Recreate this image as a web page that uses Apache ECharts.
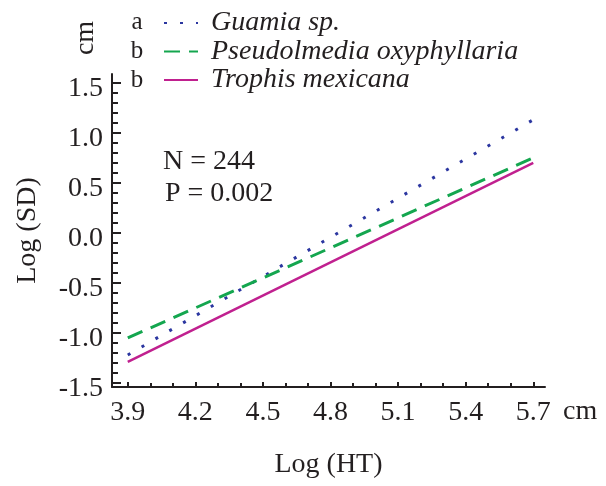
<!DOCTYPE html>
<html>
<head>
<meta charset="utf-8">
<style>
  html, body { margin: 0; padding: 0; background: #fff; }
  #chart { width: 606px; height: 486px; }
</style>
<script src="https://cdn.jsdelivr.net/npm/echarts@6/dist/echarts.min.js"></script>
</head>
<body>
<div id="chart"></div>
<script>
// regression lines, log(HT) vs log(SD)
const xEnds = [3.9, 5.7]
const guamia = [-1.22, 1.13]
const pseudolmedia = [-1.05, 0.75]
const trophis = [-1.29, 0.70]

const seriesNames = ['Guamia sp.', 'Pseudolmedia oxyphyllaria', 'Trophis mexicana']
const groupLetters = ['a', 'b', 'b']

// tick labels
const xTickLabels = [3.9, 4.2, 4.5, 4.8, 5.1, 5.4, 5.7]
const xMinorTicks = [4.0, 4.1, 4.3, 4.4, 4.6, 4.7, 4.9, 5.0, 5.2, 5.3, 5.5, 5.6]
const yTickLabels = [-1.5, -1.0, -0.5, 0.0, 0.5, 1.0, 1.5]
const yMinorTicks = [-1.4, -1.3, -1.2, -1.1, -0.9, -0.8, -0.7, -0.6, -0.4, -0.3, -0.2, -0.1,
  0.1, 0.2, 0.3, 0.4, 0.6, 0.7, 0.8, 0.9, 1.1, 1.2, 1.3, 1.4]

const FONT = 'Liberation Serif'
const INK = '#231f20'
const pairs = ys => xEnds.map((x, i) => [x, ys[i]])

const chart = echarts.init(document.getElementById('chart'))

const axisCommon = {
  type: 'value',
  splitLine: { show: false }
}

const letterText = (txt, y) => ({
  type: 'text', x: 137, y: y,
  style: { text: txt, font: '25px "Liberation Serif"', fill: INK, align: 'center', verticalAlign: 'middle' }
})

chart.setOption({
  animation: false,
  backgroundColor: '#fff',
  grid: { left: 112, right: 61, top: 74, bottom: 99 },
  legend: {
    orient: 'vertical',
    left: 163,
    top: 9,
    padding: 0,
    itemWidth: 34,
    itemHeight: 14,
    itemGap: 0.5,
    itemStyle: { opacity: 0 },
    data: seriesNames,
    textStyle: {
      fontFamily: FONT,
      fontStyle: 'italic',
      fontSize: 28,
      color: INK,
      padding: [0, 0, 0, 8]
    }
  },
  xAxis: [
    Object.assign({}, axisCommon, {
      min: 3.83,
      max: 5.752,
      name: 'Log (HT)',
      nameLocation: 'middle',
      nameGap: 64,
      nameTextStyle: { fontFamily: FONT, fontSize: 28, color: INK },
      axisLine: { onZero: false, lineStyle: { color: INK, width: 2 } },
      axisTick: { inside: true, length: 5, lineStyle: { color: INK, width: 2 }, customValues: xTickLabels },
      axisLabel: {
        customValues: xTickLabels,
        margin: 12,
        fontFamily: FONT,
        fontSize: 28,
        color: INK,
        formatter: v => v.toFixed(1)
      }
    }),
    Object.assign({}, axisCommon, {
      min: 3.83,
      max: 5.752,
      position: 'bottom',
      axisLine: { show: false, onZero: false },
      axisLabel: { show: false },
      axisTick: { inside: true, length: 4, lineStyle: { color: INK, width: 2 }, customValues: xMinorTicks }
    })
  ],
  yAxis: [
    Object.assign({}, axisCommon, {
      min: -1.54,
      max: 1.587,
      name: 'Log (SD)',
      nameLocation: 'middle',
      nameRotate: 90,
      nameGap: 70,
      nameTextStyle: { fontFamily: FONT, fontSize: 28, color: INK },
      axisLine: { onZero: false, lineStyle: { color: INK, width: 2 } },
      axisTick: { inside: true, length: 9, lineStyle: { color: INK, width: 2 }, customValues: yTickLabels },
      axisLabel: {
        customValues: yTickLabels,
        margin: 9,
        formatter: v => '{t|' + v.toFixed(1) + '}',
        rich: {
          t: { fontFamily: FONT, fontSize: 28, color: INK, padding: [12, 0, 0, 0] }
        }
      }
    }),
    Object.assign({}, axisCommon, {
      min: -1.54,
      max: 1.587,
      position: 'left',
      axisLine: { show: false, onZero: false },
      axisLabel: { show: false },
      axisTick: { inside: true, length: 6, lineStyle: { color: INK, width: 2 }, customValues: yMinorTicks }
    })
  ],
  series: [
    {
      name: seriesNames[0],
      type: 'line',
      data: pairs(guamia),
      symbol: 'none',
      color: '#2b36a0',
      lineStyle: { width: 3, type: [3, 13], color: '#2b36a0' }
    },
    {
      name: seriesNames[1],
      type: 'line',
      data: pairs(pseudolmedia),
      symbol: 'none',
      color: '#14a64f',
      lineStyle: { width: 3, type: [16, 9], color: '#14a64f' }
    },
    {
      name: seriesNames[2],
      type: 'line',
      data: pairs(trophis),
      symbol: 'none',
      color: '#c0208f',
      lineStyle: { width: 2.5, color: '#c0208f' }
    }
  ],
  graphic: [
    letterText(groupLetters[0], 22),
    letterText(groupLetters[1], 51),
    letterText(groupLetters[2], 80),
    { type: 'text', x: 86, y: 38, rotation: Math.PI / 2, style: { text: 'cm', font: '28px "Liberation Serif"', fill: INK, align: 'center', verticalAlign: 'middle' } },
    { type: 'text', x: 563, y: 412, style: { text: 'cm', font: '28px "Liberation Serif"', fill: INK, align: 'left', verticalAlign: 'middle' } },
    { type: 'text', x: 163, y: 162, style: { text: 'N = 244', font: '28px "Liberation Serif"', fill: INK, align: 'left', verticalAlign: 'middle' } },
    { type: 'text', x: 165, y: 194, style: { text: 'P = 0.002', font: '28px "Liberation Serif"', fill: INK, align: 'left', verticalAlign: 'middle' } }
  ]
})
</script>
</body>
</html>
